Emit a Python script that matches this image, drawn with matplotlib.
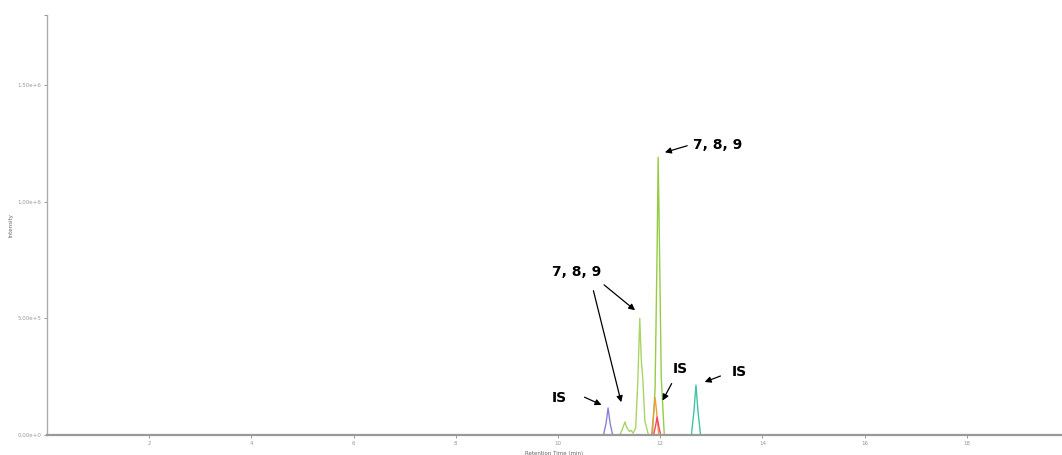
import matplotlib
matplotlib.use("Agg")
import matplotlib.pyplot as plt

# ---- data ----
purple_t = [0, 10.89, 10.94, 10.98, 11.02, 11.07, 20]
purple_i = [0, 0, 5.0e4, 1.16e5, 5.0e4, 0, 0]

greenA_t = [0, 11.21, 11.26, 11.31, 11.35, 11.40, 11.43, 11.47, 11.52, 11.56, 11.60, 11.63, 11.66, 11.70, 11.77, 20]
greenA_i = [0, 0, 2.5e4, 5.6e4, 3.0e4, 1.5e4, 2.0e4, 8.0e3, 3.0e4, 2.2e5, 5.0e5, 3.2e5, 2.4e5, 6.0e4, 0, 0]

greenB_t = [0, 11.85, 11.90, 11.94, 11.96, 11.98, 12.02, 12.08, 20]
greenB_i = [0, 0, 2.0e5, 8.0e5, 1.19e6, 9.0e5, 2.5e5, 0, 0]

orange_t = [0, 11.83, 11.87, 11.90, 11.93, 11.97, 20]
orange_i = [0, 0, 9.0e4, 1.6e5, 1.0e5, 0, 0]

red_t = [0, 11.87, 11.91, 11.94, 11.97, 12.01, 20]
red_i = [0, 0, 4.0e4, 7.7e4, 4.0e4, 0, 0]

cyan_t = [0, 12.61, 12.66, 12.70, 12.74, 12.79, 20]
cyan_i = [0, 0, 1.0e5, 2.14e5, 1.0e5, 0, 0]

x_ticks = [2, 4, 6, 8, 10, 12, 14, 16, 18]
y_ticks = [0, 5.0e5, 1.0e6, 1.5e6]
y_tick_labels = ["0.00e+0", "5.00e+5", "1.00e+6", "1.50e+6"]

fig = plt.figure(figsize=(10.62, 4.55), dpi=100)
ax = fig.add_axes([47/1062, 1-435/455, 1-47/1062, (435-15)/455])

traces = [
    (purple_t, purple_i, "#8b82d6"),
    (greenA_t, greenA_i, "#a9d466"),
    (greenB_t, greenB_i, "#95cc45"),
    (orange_t, orange_i, "#e8a040"),
    (red_t, red_i, "#ff4070"),
    (cyan_t, cyan_i, "#40c4a8"),
]
for t, i, c in traces:
    ax.plot(t, i, color=c, lw=1.0)

ax.set_xlim(0, (1062-47)/51.1)
ax.set_ylim(0, 1.8e6)
ax.set_xticks(x_ticks)
ax.set_xticklabels([str(v) for v in x_ticks])
ax.set_yticks(y_ticks)
ax.set_yticklabels(y_tick_labels)
ax.set_yticks([1.8e6], minor=True)
ax.tick_params(axis="both", which="both", labelsize=4, colors="#999999", length=2.5, width=0.7, pad=1.5)

for s in ["top", "right"]:
    ax.spines[s].set_visible(False)
ax.spines["left"].set_color("#aaaaaa")
ax.spines["left"].set_linewidth(1.0)
ax.spines["bottom"].set_color("#999999")
ax.spines["bottom"].set_linewidth(1.6)

ax.set_xlabel("Retention Time (min)", fontsize=4, color="#666666", labelpad=4)
ax.set_ylabel("Intensity", fontsize=4, color="#666666")
ax.yaxis.set_label_coords(-(47 - 13) / 1015, 0.5)

fs = 10
ap = dict(arrowstyle="-|>", color="black", lw=0.9, mutation_scale=9)

ax.text(12.64, 1.243e6, "7, 8, 9", fontsize=fs, fontweight="bold", va="center", ha="left")
ax.annotate("", xy=(12.04, 1.208e6), xytext=(12.58, 1.243e6), arrowprops=ap)

ax.text(9.88, 6.98e5, "7, 8, 9", fontsize=fs, fontweight="bold", va="center", ha="left")
ax.annotate("", xy=(11.55, 5.27e5), xytext=(10.86, 6.51e5), arrowprops=ap)
ax.annotate("", xy=(11.25, 1.29e5), xytext=(10.68, 6.30e5), arrowprops=ap)

ax.text(9.88, 1.59e5, "IS", fontsize=fs, fontweight="bold", va="center", ha="left")
ax.annotate("", xy=(10.90, 1.24e5), xytext=(10.47, 1.67e5), arrowprops=ap)

ax.text(12.25, 2.83e5, "IS", fontsize=fs, fontweight="bold", va="center", ha="left")
ax.annotate("", xy=(12.02, 1.37e5), xytext=(12.25, 2.31e5), arrowprops=ap)

ax.text(13.40, 2.70e5, "IS", fontsize=fs, fontweight="bold", va="center", ha="left")
ax.annotate("", xy=(12.82, 2.23e5), xytext=(13.23, 2.57e5), arrowprops=ap)

fig.savefig("out.png", dpi=100)
